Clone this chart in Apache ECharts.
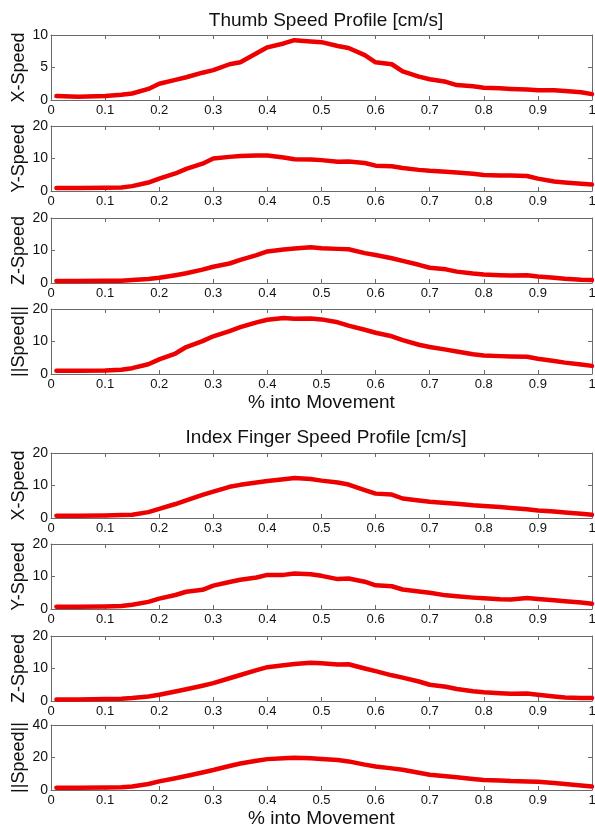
<!DOCTYPE html>
<html>
<head>
<meta charset="utf-8">
<script src="https://cdn.jsdelivr.net/npm/echarts@6/dist/echarts.min.js"></script>
<style>
html,body{margin:0;padding:0;background:#fff;}
#chart{width:595px;height:829px;}
</style>
</head>
<body>
<div id="chart"></div>
<script>
// ---- data ----
const xs = [0.01,0.05,0.1,0.13,0.15,0.18,0.2,0.23,0.25,0.28,0.3,0.33,0.35,0.38,0.4,0.43,0.45,0.48,0.5,0.53,0.55,0.58,0.6,0.63,0.65,0.68,0.7,0.73,0.75,0.78,0.8,0.83,0.85,0.88,0.9,0.93,0.95,0.98,1.0];

const thumbX = [0.6,0.5,0.6,0.8,1.0,1.7,2.5,3.1,3.5,4.2,4.6,5.5,5.8,7.2,8.1,8.7,9.2,9.0,8.9,8.3,8.0,6.9,5.8,5.5,4.4,3.6,3.2,2.8,2.3,2.1,1.9,1.8,1.7,1.6,1.5,1.5,1.4,1.2,0.9];
const thumbY = [0.9,0.9,1.0,1.1,1.5,2.6,3.8,5.4,6.8,8.4,10.0,10.5,10.8,10.9,10.9,10.3,9.8,9.7,9.5,9.0,9.1,8.6,7.8,7.6,7.1,6.5,6.2,5.9,5.7,5.3,4.9,4.8,4.8,4.6,3.8,2.9,2.6,2.2,2.0];
const thumbZ = [0.6,0.6,0.7,0.7,0.9,1.2,1.6,2.4,3.0,4.1,5.0,6.0,7.1,8.6,9.7,10.3,10.6,11.0,10.7,10.5,10.4,9.2,8.6,7.6,6.8,5.6,4.7,4.2,3.5,2.9,2.6,2.4,2.3,2.4,2.0,1.6,1.3,1.0,0.9];
const thumbS = [1.0,1.0,1.1,1.3,1.8,3.0,4.5,6.3,8.3,10.1,11.6,13.2,14.4,15.9,16.7,17.2,17.0,17.1,16.8,15.9,14.9,13.6,12.7,11.6,10.4,9.0,8.3,7.5,6.9,6.1,5.7,5.5,5.4,5.3,4.7,4.0,3.5,2.9,2.5];

const indexX = [0.7,0.7,0.8,0.9,1.0,1.8,2.8,4.3,5.4,7.1,8.1,9.6,10.2,10.9,11.4,11.9,12.3,12.0,11.5,10.9,10.3,8.6,7.5,7.2,6.0,5.4,5.0,4.6,4.4,3.9,3.7,3.4,3.1,2.7,2.3,2.0,1.7,1.3,1.0];
const indexY = [0.7,0.7,0.8,0.9,1.3,2.2,3.2,4.3,5.3,5.9,7.2,8.3,9.0,9.7,10.5,10.5,10.9,10.7,10.2,9.2,9.4,8.4,7.3,7.0,6.0,5.4,5.0,4.2,3.9,3.5,3.3,3.0,2.9,3.4,3.1,2.7,2.4,2.0,1.6];
const indexZ = [0.5,0.5,0.6,0.7,0.9,1.4,1.9,2.9,3.6,4.7,5.5,7.0,8.0,9.5,10.4,11.0,11.4,11.8,11.6,11.2,11.3,10.0,9.2,7.9,7.2,6.0,5.0,4.4,3.7,3.0,2.7,2.4,2.2,2.3,1.9,1.4,1.1,0.9,0.9];
const indexS = [1.4,1.4,1.5,1.7,2.2,3.7,5.3,7.2,8.6,10.8,12.3,14.8,16.3,18.0,19.0,19.6,19.8,19.6,19.1,18.4,17.6,15.6,14.5,13.3,12.5,10.6,9.4,8.5,7.8,6.8,6.2,5.8,5.5,5.3,5.1,4.3,3.7,2.8,2.1];

const panelNames = ['X-Speed','Y-Speed','Z-Speed','||Speed||','X-Speed','Y-Speed','Z-Speed','||Speed||'];
const panelData = [thumbX, thumbY, thumbZ, thumbS, indexX, indexY, indexZ, indexS];
const yMax = [10,20,20,20,20,20,20,40];
const yStep = [5,10,10,10,10,10,10,20];
const titles = ['Thumb Speed Profile [cm/s]','Index Finger Speed Profile [cm/s]'];
const xName = '% into Movement';

// ---- layout ----
const tops = [35,126,218,309,453,544,636,725];
const H = 65, L = 51, R = 3;
const FONT = 'Liberation Sans, Arial, sans-serif';
const AX = '#6a6a6a';

const grid=[], xAxis=[], yAxis=[], series=[];
tops.forEach((t,i)=>{
  grid.push({left:L, right:R, top:t, height:H, containLabel:false, outerBoundsMode:'none'});
  const common = {min:0, max:1, interval:0.1, gridIndex:i, type:'value', splitLine:{show:false},
    axisLine:{show:true, onZero:false, lineStyle:{color:AX, width:1}},
    axisTick:{show:true, inside:true, length:4, lineStyle:{color:AX}}};
  xAxis.push(Object.assign({}, common, {position:'bottom',
    axisLabel:{show:true, margin:4, color:'#111', fontSize:13, fontFamily:FONT,
      formatter:v=>String(+v.toFixed(1))},
    name:(i===3||i===7)?xName:'', nameLocation:'middle', nameGap:19, nameMoveOverlap:false,
    nameTextStyle:{fontSize:19, color:'#111', fontFamily:FONT}}));
  xAxis.push(Object.assign({}, common, {position:'top', axisLabel:{show:false}}));
  const yc = {min:0, max:yMax[i], interval:yStep[i], gridIndex:i, type:'value', splitLine:{show:false},
    axisLine:{show:true, onZero:false, lineStyle:{color:AX, width:1}},
    axisTick:{show:true, inside:true, length:4, lineStyle:{color:AX}}};
  yAxis.push(Object.assign({}, yc, {position:'left',
    axisLabel:{show:true, margin:3, color:'#111', fontSize:14, fontFamily:FONT},
    name:panelNames[i], nameLocation:'middle', nameGap:23, nameRotate:90, nameMoveOverlap:false,
    nameTextStyle:{fontSize:18, color:'#111', fontFamily:FONT}}));
  yAxis.push(Object.assign({}, yc, {position:'right', axisLabel:{show:false}}));
  series.push({type:'line', xAxisIndex:2*i, yAxisIndex:2*i, showSymbol:false, symbol:'none',
    lineStyle:{color:'#ee0000', width:4.5, join:'round', cap:'round'},
    data: xs.map((x,k)=>[x, panelData[i][k]])});
});

const chart = echarts.init(document.getElementById('chart'), null, {renderer:'canvas'});
chart.setOption({
  animation:false,
  backgroundColor:'#fff',
  title:[
    {text:titles[0], left:321, top:6, textAlign:'center', textStyle:{fontSize:19, fontWeight:'normal', color:'#111', fontFamily:FONT}},
    {text:titles[1], left:321, top:423, textAlign:'center', textStyle:{fontSize:19, fontWeight:'normal', color:'#111', fontFamily:FONT}}
  ],
  grid, xAxis, yAxis, series
});
</script>
</body>
</html>
